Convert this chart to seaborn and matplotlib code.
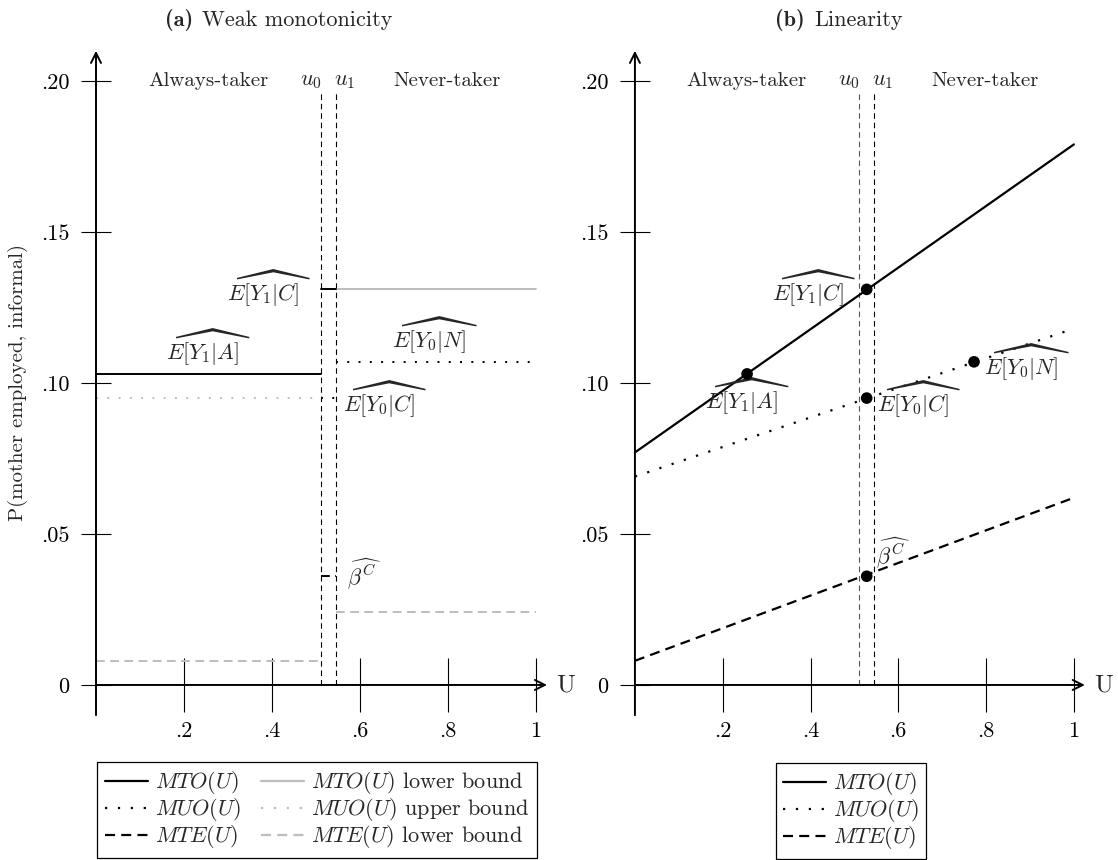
import numpy as np
import matplotlib
matplotlib.use("Agg")
import matplotlib.pyplot as plt
from matplotlib.lines import Line2D
import seaborn as sns

sns.set_theme(style="ticks")
plt.rcParams["font.family"] = ["cmr10", "DejaVu Serif"]
plt.rcParams["mathtext.fontset"] = "cm"
plt.rcParams["axes.unicode_minus"] = False
plt.rcParams["axes.formatter.use_mathtext"] = True

FS = 15      # plain annotations
FS_M = 16    # estimate labels, ticks, legend
FS_T = 16    # panel titles

# cut-offs of the complier interval
u0, u1 = 0.511, 0.545

# panel (a): group intervals (always-takers, compliers, never-takers)
seg_start = [0.0, u0, u1]
seg_end = [u0, u1, 1.0]
mto_vals = [0.103, 0.131, np.nan]
mto_lower_vals = [np.nan, np.nan, 0.131]
muo_vals = [np.nan, 0.095, 0.107]
muo_upper_vals = [0.095, np.nan, np.nan]
mte_vals = [np.nan, 0.036, np.nan]
mte_lower_vals = [0.008, np.nan, 0.024]

# panel (b): linear curves (value at U=0 and U=1) and group estimates
line_u = [0.0, 1.0]
mto_line = [0.077, 0.179]
muo_line = [0.069, 0.118]
mte_line = [0.008, 0.062]
point_u = [0.2555, 0.528, 0.528, 0.7725, 0.528]
point_vals = [0.103, 0.131, 0.095, 0.107, 0.036]

x_ticks = [0.2, 0.4, 0.6, 0.8, 1.0]
x_labels = [".2", ".4", ".6", ".8", "1"]
y_ticks = [0.0, 0.05, 0.10, 0.15, 0.20]
y_labels = ["0", ".05", ".10", ".15", ".20"]

GREY = "#bdbdbd"
LW = 1.4
styles = {
    "solid": dict(linestyle="-"),
    "dotted": dict(linestyle=(0, (1.0, 4.8))),
    "dashed": dict(linestyle=(0, (4.5, 2.8))),
}

W, H = 1118, 860
fig = plt.figure(figsize=(W / 100, H / 100), dpi=100)
ax_a = fig.add_axes([0.03864, 0.1333, 0.4644, 0.8252])
ax_b = fig.add_axes([0.5208, 0.1333, 0.4633, 0.8252])


def setup(ax):
    ax.set_xlim(-0.12, 1.06)
    ax.set_ylim(-0.02, 0.215)
    for s in ax.spines.values():
        s.set_visible(False)
    ax.spines["left"].set_position(("data", 0))
    ax.spines["bottom"].set_position(("data", 0))
    ax.set_xticks(x_ticks, labels=x_labels)
    ax.set_yticks(y_ticks, labels=y_labels)
    ax.tick_params(axis="x", direction="inout", length=39, width=0.8,
                   pad=7, labelsize=FS_M, colors="black")
    ax.tick_params(axis="y", direction="inout", length=22, width=0.8,
                   pad=8, labelsize=FS_M, colors="black")
    arrow = dict(arrowstyle="->", lw=1.4, color="black",
                 shrinkA=0, shrinkB=0, mutation_scale=18)
    ax.annotate("", xy=(1.025, 0), xytext=(0, 0), arrowprops=arrow)
    ax.annotate("", xy=(0, 0.21), xytext=(0, -0.010), arrowprops=arrow)
    ax.text(1.068, 0, "U", fontsize=FS + 3, ha="center", va="center")
    ax.text(0.255, 0.20, "Always-taker", fontsize=FS, ha="center", va="center")
    ax.text(0.797, 0.20, "Never-taker", fontsize=FS, ha="center", va="center")
    ax.text(u0 + 0.002, 0.20, "$u_0$", fontsize=FS_M, ha="right", va="center")
    ax.text(u1 - 0.005, 0.20, "$u_1$", fontsize=FS_M, ha="left", va="center")


def segments(ax, vals, color, style):
    for a, b, v in zip(seg_start, seg_end, vals):
        if np.isnan(v):
            continue
        sns.lineplot(x=[a, b], y=[v, v], ax=ax, color=color, lw=LW,
                     **styles[style])


def title(bold_part, rest, x_split_px):
    y = 1 - 20 / H
    fig.text((x_split_px - 4) / W, y, bold_part, fontsize=FS_T, ha="right",
             va="center", family="cmb10")
    fig.text((x_split_px + 5) / W, y, rest, fontsize=FS_T, ha="left",
             va="center")


# ---- panel (a): weak monotonicity ----
setup(ax_a)
ax_a.vlines([u0, u1], 0, 0.197, colors="black", lw=0.8,
            linestyles=[(0, (5, 3.5))])
segments(ax_a, mto_lower_vals, GREY, "solid")
segments(ax_a, muo_upper_vals, GREY, "dotted")
segments(ax_a, mte_lower_vals, GREY, "dashed")
segments(ax_a, mto_vals, "black", "solid")
segments(ax_a, muo_vals, "black", "dotted")
segments(ax_a, mte_vals, "black", "dashed")

ax_a.text(0.488, 0.131, r"$\widehat{E[Y_1|C]}$", fontsize=FS_M, ha="right", va="center")
ax_a.text(0.255, 0.1115, r"$\widehat{E[Y_1|A]}$", fontsize=FS_M, ha="center", va="center")
ax_a.text(0.77, 0.1155, r"$\widehat{E[Y_0|N]}$", fontsize=FS_M, ha="center", va="center")
ax_a.text(0.562, 0.0945, r"$\widehat{E[Y_0|C]}$", fontsize=FS_M, ha="left", va="center")
ax_a.text(0.57, 0.0365, r"$\widehat{\beta^C}$", fontsize=FS_M, ha="left", va="center")
ax_a.text(-0.177, 0.10, "P(mother employed, informal)", fontsize=FS,
          rotation=90, ha="center", va="center")
title("(a)", "Weak monotonicity", 197)

# ---- panel (b): linearity ----
setup(ax_b)
ax_b.vlines([u0], 0, 0.197, colors="#555555", lw=0.8, linestyles=[(0, (5, 3.5))])
ax_b.vlines([u1], 0, 0.197, colors="black", lw=0.8, linestyles=[(0, (5, 3.5))])
sns.lineplot(x=line_u, y=mto_line, ax=ax_b, color="black", lw=LW + 0.2, **styles["solid"])
sns.lineplot(x=line_u, y=muo_line, ax=ax_b, color="black", lw=LW + 0.2, **styles["dotted"])
sns.lineplot(x=line_u, y=mte_line, ax=ax_b, color="black", lw=LW + 0.2, **styles["dashed"])
sns.scatterplot(x=point_u, y=point_vals, ax=ax_b, color="black", s=70,
                edgecolor="none", zorder=5)

ax_b.text(0.503, 0.131, r"$\widehat{E[Y_1|C]}$", fontsize=FS_M, ha="right", va="center")
ax_b.text(0.257, 0.0955, r"$\widehat{E[Y_1|A]}$", fontsize=FS_M, ha="center", va="center")
ax_b.text(0.551, 0.0945, r"$\widehat{E[Y_0|C]}$", fontsize=FS_M, ha="left", va="center")
ax_b.text(0.795, 0.1065, r"$\widehat{E[Y_0|N]}$", fontsize=FS_M, ha="left", va="center")
ax_b.text(0.55, 0.0435, r"$\widehat{\beta^C}$", fontsize=FS_M, ha="left", va="center")
title("(b)", "Linearity", 809)

# ---- legends ----
def handle(color, style):
    return Line2D([], [], color=color, lw=LW + 0.2, **styles[style])

leg_kw = dict(fontsize=FS_M, frameon=True, fancybox=False, edgecolor="black",
              framealpha=1, handlelength=1.95, handletextpad=0.3,
              labelspacing=0.0, borderpad=0.33, borderaxespad=0)

h_a = [handle("black", "solid"), handle("black", "dotted"), handle("black", "dashed"),
       handle(GREY, "solid"), handle(GREY, "dotted"), handle(GREY, "dashed")]
l_a = ["$MTO(U)$", "$MUO(U)$", "$MTE(U)$",
       "$MTO(U)$ lower bound", "$MUO(U)$ upper bound", "$MTE(U)$ lower bound"]
leg_a = fig.legend(h_a, l_a, ncol=2, loc="upper center", columnspacing=0.9,
                   bbox_to_anchor=(317 / W, 1 - 762 / H), **leg_kw)
leg_a.get_frame().set_linewidth(0.9)

h_b = [handle("black", "solid"), handle("black", "dotted"), handle("black", "dashed")]
l_b = ["$MTO(U)$", "$MUO(U)$", "$MTE(U)$"]
leg_b = fig.legend(h_b, l_b, ncol=1, loc="upper center",
                   bbox_to_anchor=(851 / W, 1 - 763 / H), **leg_kw)
leg_b.get_frame().set_linewidth(0.9)

fig.savefig("out.png", dpi=100)
